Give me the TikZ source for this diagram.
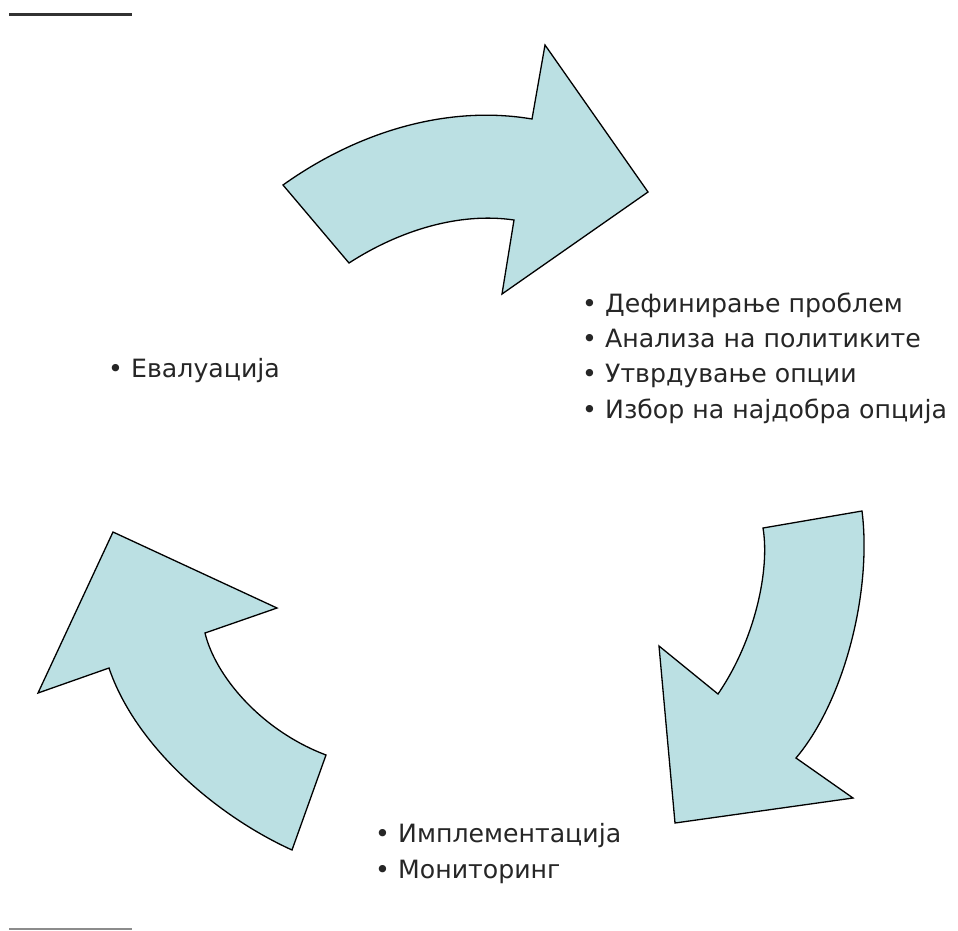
\documentclass[tikz,border=0pt]{standalone}
\usepackage{fontspec}
\setmainfont{DejaVu Sans}
\usetikzlibrary{positioning}
\definecolor{arrowfill}{RGB}{187,224,227}
\definecolor{darkrule}{RGB}{50,50,50}
\definecolor{lightrule}{RGB}{140,140,140}
\newcommand{\bitem}[1]{\makebox[23pt][l]{\textbullet}#1}

\begin{document}
\begin{tikzpicture}[
    x=1pt, y=-1pt,
    cycarrow/.style={fill=arrowfill, draw=black, line width=1.3pt, line join=miter},
    item/.style={anchor=base west, inner sep=0pt, text=black!85, font=\fontsize{25.2}{30}\selectfont},
]
\useasboundingbox (0,0) rectangle (958,930);

% Rules
\draw[darkrule, line width=3pt] (9,14) -- (132,14);
\draw[lightrule, line width=1.5pt] (9,929) -- (132,929);

% Arrow to the right (top)
\draw[cycarrow] (283,185) .. controls (360,130) and (450,105) .. (532,119)
    -- (545,45) -- (648,192) -- (502,294) -- (514,220)
    .. controls (460,212) and (400,230) .. (349,263) -- cycle;

% Arrow down (right)
\draw[cycarrow] (862,511) -- (763,528)
    .. controls (770,570) and (755,640) .. (718,694)
    -- (659,646) -- (675,823) -- (853,798) -- (796,758)
    .. controls (845,700) and (872,590) .. cycle;

% Arrow up (left)
\draw[cycarrow] (326,755) -- (292,850)
    .. controls (215,815) and (135,745) .. (109,668)
    -- (38,693) -- (113,532) -- (277,608) -- (205,633)
    .. controls (215,675) and (260,730) .. cycle;

% Stages
\node[item] (def) at (582,312) {\bitem{Дефинирање проблем}};
\node[item] (anal) at (582,347) {\bitem{Анализа на политиките}};
\node[item] (utv) at (582,382) {\bitem{Утврдување опции}};
\node[item] (izb) at (582,418) {\bitem{Избор на најдобра опција}};

\node[item] (eval) at (108,377) {\bitem{Евалуација}};

\node[item] (impl) at (375,842) {\bitem{Имплементација}};
\node[item] (mon) at (375,878) {\bitem{Мониторинг}};

\end{tikzpicture}
\end{document}
